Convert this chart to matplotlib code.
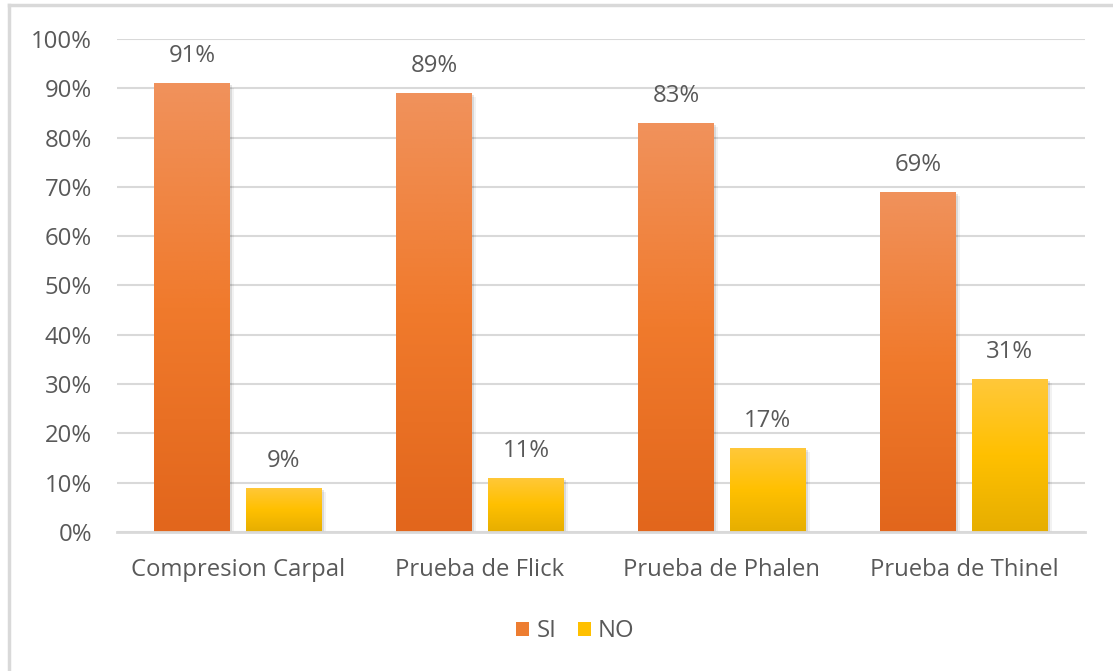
import numpy as np
import matplotlib
matplotlib.use('Agg')
import matplotlib.pyplot as plt
from matplotlib.patches import Patch
from matplotlib.colors import LinearSegmentedColormap
from matplotlib.ticker import PercentFormatter
import matplotlib.patheffects as pe

plt.rcParams['font.family'] = ['Open Sans', 'DejaVu Sans']

# data
categories = ['Compresion Carpal', 'Prueba de Flick', 'Prueba de Phalen', 'Prueba de Thinel']
si_values = [0.91, 0.89, 0.83, 0.69]
no_values = [0.09, 0.11, 0.17, 0.31]
series_names = ['SI', 'NO']

text_color = '#595959'
grid_color = '#D9D9D9'
fs = 17.2

# vertical gradients, bottom -> top
orange_cmap = LinearSegmentedColormap.from_list('orange', ['#E2661C', '#F07A2C', '#F0925C'])
yellow_cmap = LinearSegmentedColormap.from_list('yellow', ['#E6AE00', '#FFC000', '#FFC83A'])

fig = plt.figure(figsize=(11.13, 6.71), dpi=100)
ax = fig.add_axes([0.1051, 0.2072, 0.8697, 0.7347])

x = np.arange(len(categories))
width = 0.314
offset = 0.19

# soft drop shadow under each bar
shadow = [pe.SimplePatchShadow(offset=(1.5, -1.5), shadow_rgbFace='k', alpha=0.10),
          pe.SimplePatchShadow(offset=(3, -3), shadow_rgbFace='k', alpha=0.05),
          pe.Normal()]

grad = np.linspace(0, 1, 256).reshape(-1, 1)


def gradient_bars(xpos, values, cmap, color):
    bars = ax.bar(xpos, values, width, color=color, zorder=3, path_effects=shadow)
    for b in bars:
        x0, y0 = b.get_x(), b.get_y()
        w, h = b.get_width(), b.get_height()
        im = ax.imshow(grad, cmap=cmap, origin='lower', aspect='auto',
                       extent=[x0, x0 + w, y0, y0 + h], zorder=4)
        im.set_clip_path(b)
    for b, v in zip(bars, values):
        ax.annotate(f'{v * 100:.0f}%', (b.get_x() + b.get_width() / 2, v),
                    xytext=(0, 19.5), textcoords='offset points',
                    ha='center', va='center', fontsize=fs, color=text_color)
    return bars


gradient_bars(x - offset, si_values, orange_cmap, '#ED7D31')
gradient_bars(x + offset, no_values, yellow_cmap, '#FFC000')

ax.set_xlim(-0.5, len(categories) - 0.5)
ax.set_ylim(0, 1)
ax.set_yticks(np.arange(0, 1.01, 0.1))
ax.yaxis.set_major_formatter(PercentFormatter(1.0, decimals=0))
ax.set_xticks(x)
ax.set_xticklabels(categories)

ax.grid(axis='y', color=grid_color, linewidth=1.5, zorder=0)
ax.set_axisbelow(True)
for s in ['top', 'right', 'left']:
    ax.spines[s].set_visible(False)
ax.spines['bottom'].set_color(grid_color)
ax.spines['bottom'].set_linewidth(2)
ax.spines['bottom'].set_zorder(5)
ax.tick_params(axis='both', length=0, labelsize=fs, colors=text_color)
ax.tick_params(axis='x', pad=18.5)
ax.tick_params(axis='y', pad=18)

handles = [Patch(facecolor='#ED7D31', label=series_names[0]),
           Patch(facecolor='#FFC000', label=series_names[1])]
fig.legend(handles=handles, loc='center', bbox_to_anchor=(0.517, 0.059), ncol=2,
           frameon=False, fontsize=fs, labelcolor=text_color,
           handlelength=0.55, handleheight=0.55, handletextpad=0.3, columnspacing=0.9)

# chart outline (top and left edges)
fig.add_artist(plt.Line2D([9 / 1113, 1], [1 - 5 / 671, 1 - 5 / 671], color=grid_color, linewidth=2.5,
                          transform=fig.transFigure))
fig.add_artist(plt.Line2D([9 / 1113, 9 / 1113], [0, 1 - 5 / 671], color=grid_color, linewidth=2.5,
                          transform=fig.transFigure))

fig.savefig('out.png', dpi=100)
